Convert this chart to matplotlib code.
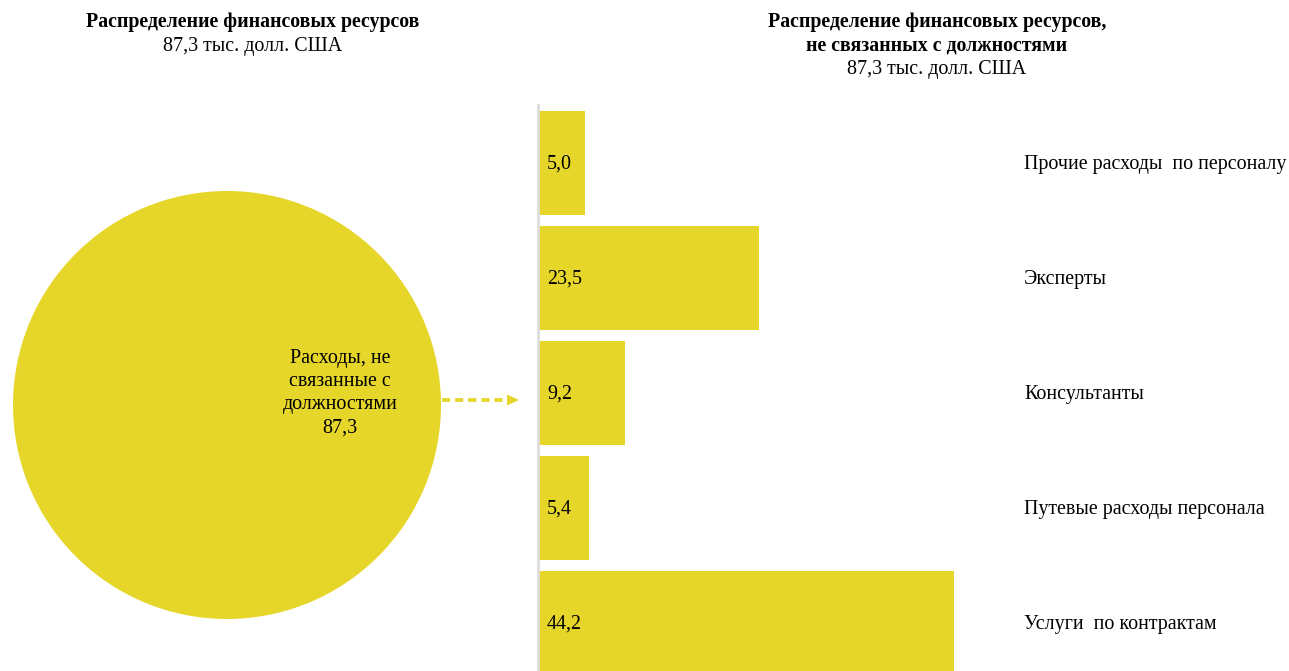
import matplotlib
matplotlib.use("Agg")
import matplotlib.pyplot as plt
from matplotlib.lines import Line2D
from matplotlib.patches import Polygon
from matplotlib.transforms import blended_transform_factory

plt.rcParams['font.family'] = ['Liberation Serif', 'DejaVu Serif']

# Data
pie_label = "Расходы, не\nсвязанные с\nдолжностями"
pie_values = [87.3]
categories = ["Прочие расходы  по персоналу", "Эксперты", "Консультанты",
              "Путевые расходы персонала", "Услуги  по контрактам"]
values = [5.0, 23.5, 9.2, 5.4, 44.2]
title_left = "Распределение финансовых ресурсов"
title_right = "Распределение финансовых ресурсов,\nне связанных с должностями"
subtitle = "87,3 тыс. долл. США"

W, H = 1289, 671
fig = plt.figure(figsize=(W / 100, H / 100), dpi=100)
color = "#E6D62A"
FS = 14.4

def fx(px): return px / W
def fy(py): return 1 - py / H

# Pie
pax = fig.add_axes([fx(13), fy(619), fx(428), 428 / H])
pax.pie(pie_values, colors=[color], radius=1, startangle=90,
        wedgeprops=dict(linewidth=0))
pax.set_xlim(-1, 1); pax.set_ylim(-1, 1)
pax.set_aspect('auto')
pax.axis('off')
fig.text(fx(340), fy(393), pie_label + "\n" + f"{pie_values[0]:.1f}".replace('.', ','),
         ha='center', va='center', fontsize=FS, linespacing=1.29)

# Arrow: dashed shaft + solid head
fig.add_artist(Line2D([fx(442), fx(508)], [fy(400), fy(400)],
                      transform=fig.transFigure, color=color, linewidth=2.7,
                      linestyle=(0, (2.15, 1.35)), solid_capstyle='butt',
                      dash_capstyle='butt'))
fig.add_artist(Polygon([[fx(507), fy(394.5)], [fx(519), fy(400)], [fx(507), fy(405.5)]],
                       closed=True, transform=fig.transFigure, color=color, linewidth=0))

# Bars
ax_top, ax_bot = 105, 671
bax = fig.add_axes([fx(538), fy(ax_bot), fx(462), (ax_bot - ax_top) / H])
y = list(range(len(values)))
bax.barh(y, values, height=0.9, color=color, left=0)
pitch = 115.0
bax.set_ylim(4 + (ax_bot - 623) / pitch, -(163 - ax_top) / pitch)
bax.set_xlim(0, 462 / 9.41)
for s in ['top', 'right', 'bottom']:
    bax.spines[s].set_visible(False)
bax.spines['left'].set_color('#dddddd')
bax.spines['left'].set_linewidth(2)
bax.set_xticks([]); bax.set_yticks([])
bax.patch.set_alpha(0)

tr = blended_transform_factory(fig.transFigure, bax.transData)
for i, (v, c) in enumerate(zip(values, categories)):
    bax.text(fx(547), i + 0.01, f"{v:.1f}".replace('.', ','), transform=tr,
             ha='left', va='center', fontsize=FS)
    bax.text(fx(1024), i + 0.01, c, transform=tr, ha='left', va='center', fontsize=FS)

# Titles
fig.text(fx(253), fy(22.5), title_left, ha='center', va='center',
         fontsize=FS - 0.1, fontweight='bold')
fig.text(fx(253), fy(46), subtitle, ha='center', va='center', fontsize=FS)
fig.text(fx(937), fy(34), title_right, ha='center', va='center',
         fontsize=FS - 0.1, fontweight='bold', linespacing=1.2)
fig.text(fx(937), fy(69.5), subtitle, ha='center', va='center', fontsize=FS)

fig.savefig("out.png", dpi=100, facecolor='white')
